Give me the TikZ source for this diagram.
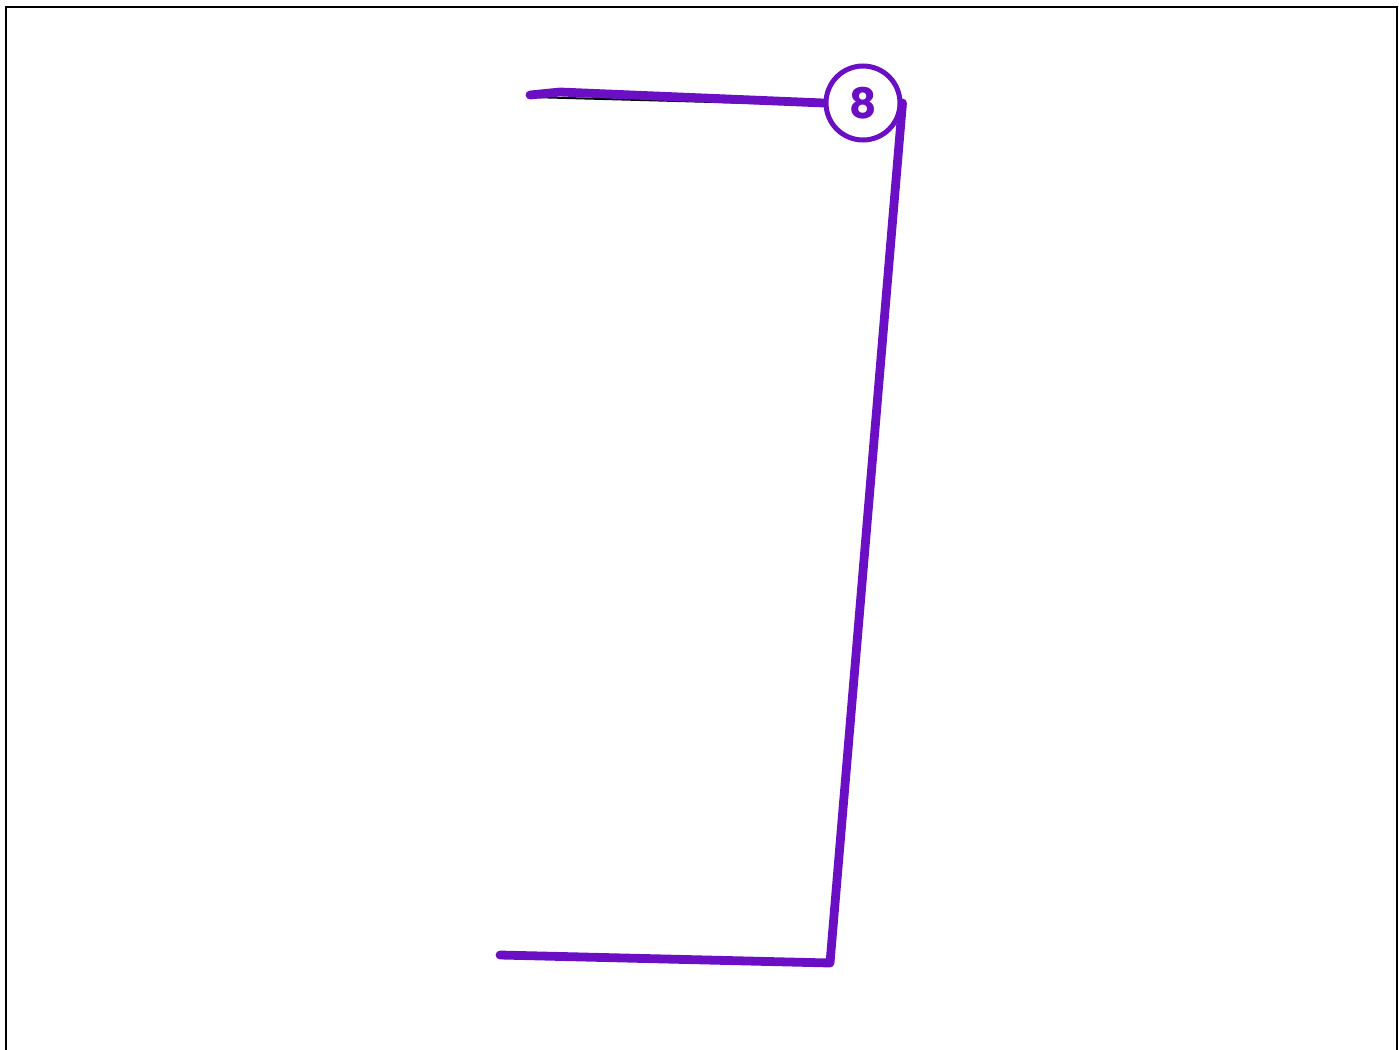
\documentclass[tikz,border=0pt]{standalone}
\usepackage{fontspec}
\setsansfont{Poppins}
\begin{document}
\begin{tikzpicture}[x=0.5pt,y=-0.5pt]

% Colori
\definecolor{colViola}{HTML}{6A0FC4}

\tikzset{
  tratto/.style={colViola, line width=4.4pt, line cap=round, line join=round},
  ombra/.style={black, line width=1pt, line cap=round},
  tappa/.style={circle, draw=colViola, fill=white, line width=2.5pt, minimum size=37pt,
    inner sep=0pt, text=colViola, font=\sffamily\bfseries\fontsize{21}{21}\selectfont}
}

% Cornice
\useasboundingbox (0,0) rectangle (1399,1050);
\draw[line width=1.2pt] (6,1060) -- (6,7) -- (1397,7) -- (1397,1060);

% Punti del percorso
\coordinate (inizio) at (530,95);
\coordinate (piega) at (560,92);
\coordinate (basso) at (830,963);
\coordinate (fine) at (500,955);

% Tappa
\node[tappa] (n8) at (863,103) {8};

% Ombra sotto il tratto
\draw[ombra] ([yshift=-1pt]inizio) -- ([yshift=-1pt]n8.west);
\draw[ombra] ([yshift=-1pt]fine) -- ([yshift=-1pt]basso);

% Percorso
\draw[tratto] (inizio) -- (piega) -- (n8.west);
\draw[tratto] (n8.east) -- (basso) -- (fine);

\end{tikzpicture}
\end{document}
